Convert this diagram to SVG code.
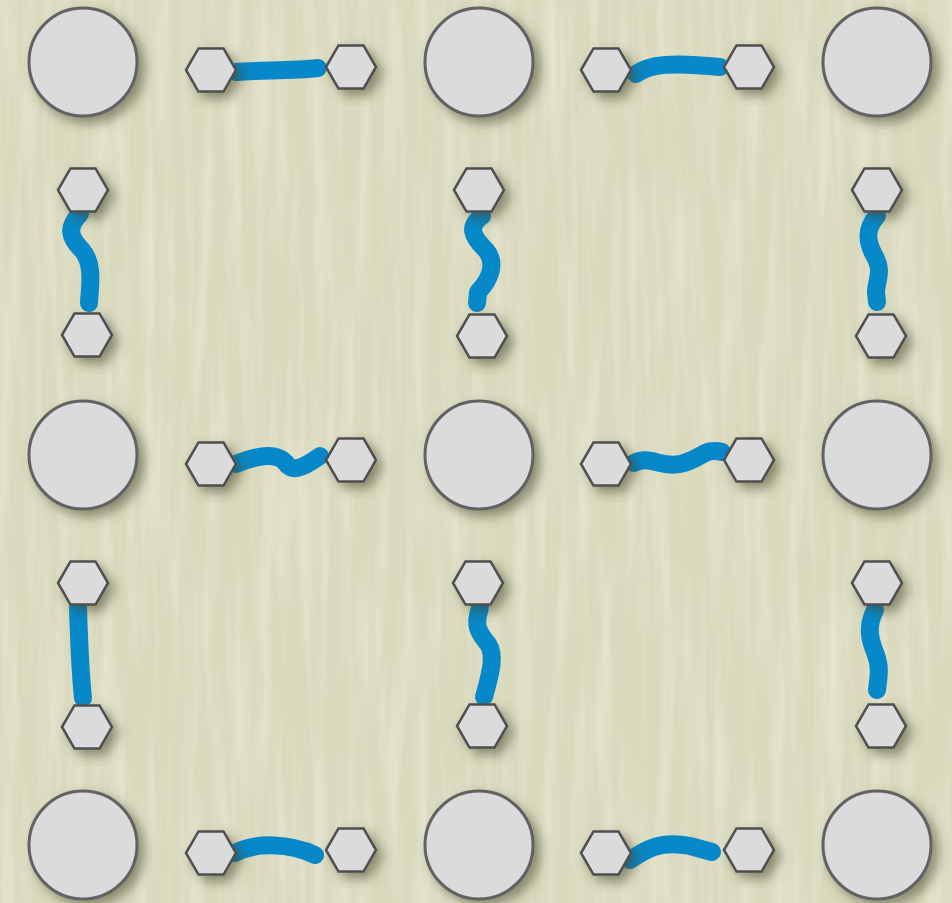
<svg xmlns="http://www.w3.org/2000/svg" width="952" height="903" viewBox="0 0 952 903">
<defs>
<filter id="tex" x="0" y="0" width="100%" height="100%">
<feTurbulence type="fractalNoise" baseFrequency="0.07 0.005" numOctaves="3" seed="7"/>
<feColorMatrix type="matrix" values="0 0 0 0 0.96  0 0 0 0 0.96  0 0 0 0 0.88  0.8 0 0 0 -0.32"/>
</filter>
<filter id="sh" x="-30%" y="-30%" width="170%" height="170%">
<feDropShadow dx="6" dy="6" stdDeviation="6" flood-color="#45452a" flood-opacity="0.55"/>
</filter>
<polygon id="hex" points="-25,0 -12.5,-21.6 12.5,-21.6 25,0 12.5,21.6 -12.5,21.6"/>
</defs>
<style>
.c{fill:#d9dbdd;stroke:#626262;stroke-width:3}
.h{fill:#d9dbdd;stroke:#4f4f4f;stroke-width:2.5;stroke-linejoin:miter}
.n{filter:url(#sh)}
.e{fill:none;stroke:#0788c9;stroke-width:18;stroke-linecap:round;stroke-linejoin:round}
</style>
<rect width="952" height="903" fill="#d9d9bd"/>
<rect width="952" height="903" filter="url(#tex)"/>

<g id="connectors">
<path class="e" d="M236,72 C262,70 292,71 318,68"/>
<path class="e" d="M636,74 C650,64 672,62 720,67"/>
<path class="e" d="M80,214 C66,228 70,238 82,250 C94,264 90,285 89,303"/>
<path class="e" d="M482,216 C468,226 472,236 484,248 C498,262 490,280 478,292 L477,303"/>
<path class="e" d="M877,216 C866,228 866,240 874,255 C884,272 876,280 876,292 L877,302"/>
<path class="e" d="M236,464 C255,456 275,452 285,462 C292,472 300,470 320,456"/>
<path class="e" d="M634,463 C650,455 660,468 680,464 C700,460 705,447 722,452"/>
<path class="e" d="M78,608 C79,640 80,670 83,698"/>
<path class="e" d="M480,608 C474,625 478,632 488,644 C496,656 490,675 484,697"/>
<path class="e" d="M875,610 C866,628 870,640 876,655 C881,668 878,680 877,690"/>
<path class="e" d="M235,853 C255,842 290,843 315,855"/>
<path class="e" d="M630,860 C645,850 660,840 690,846 L712,852"/>
</g>

<g id="c1" class="n"><circle class="c" cx="83" cy="62" r="54"/></g>
<g id="c2" class="n"><circle class="c" cx="479" cy="62" r="54"/></g>
<g id="c3" class="n"><circle class="c" cx="877" cy="62" r="54"/></g>
<g id="c4" class="n"><circle class="c" cx="83" cy="455" r="54"/></g>
<g id="c5" class="n"><circle class="c" cx="479" cy="455" r="54"/></g>
<g id="c6" class="n"><circle class="c" cx="877" cy="455" r="54"/></g>
<g id="c7" class="n"><circle class="c" cx="83" cy="845" r="54"/></g>
<g id="c8" class="n"><circle class="c" cx="479" cy="845" r="54"/></g>
<g id="c9" class="n"><circle class="c" cx="877" cy="845" r="54"/></g>

<g id="h1" class="n"><use href="#hex" class="h" x="211" y="70"/></g>
<g id="h2" class="n"><use href="#hex" class="h" x="351" y="67"/></g>
<g id="h3" class="n"><use href="#hex" class="h" x="606" y="70"/></g>
<g id="h4" class="n"><use href="#hex" class="h" x="749" y="67"/></g>
<g id="h5" class="n"><use href="#hex" class="h" x="83" y="190"/></g>
<g id="h6" class="n"><use href="#hex" class="h" x="87" y="335"/></g>
<g id="h7" class="n"><use href="#hex" class="h" x="479" y="190"/></g>
<g id="h8" class="n"><use href="#hex" class="h" x="482" y="336"/></g>
<g id="h9" class="n"><use href="#hex" class="h" x="877" y="190"/></g>
<g id="h10" class="n"><use href="#hex" class="h" x="881" y="336"/></g>
<g id="h11" class="n"><use href="#hex" class="h" x="211" y="464"/></g>
<g id="h12" class="n"><use href="#hex" class="h" x="351" y="460"/></g>
<g id="h13" class="n"><use href="#hex" class="h" x="606" y="464"/></g>
<g id="h14" class="n"><use href="#hex" class="h" x="749" y="460"/></g>
<g id="h15" class="n"><use href="#hex" class="h" x="83" y="583"/></g>
<g id="h16" class="n"><use href="#hex" class="h" x="87" y="727"/></g>
<g id="h17" class="n"><use href="#hex" class="h" x="478" y="583"/></g>
<g id="h18" class="n"><use href="#hex" class="h" x="482" y="726"/></g>
<g id="h19" class="n"><use href="#hex" class="h" x="877" y="583"/></g>
<g id="h20" class="n"><use href="#hex" class="h" x="881" y="726"/></g>
<g id="h21" class="n"><use href="#hex" class="h" x="211" y="853"/></g>
<g id="h22" class="n"><use href="#hex" class="h" x="351" y="850"/></g>
<g id="h23" class="n"><use href="#hex" class="h" x="606" y="853"/></g>
<g id="h24" class="n"><use href="#hex" class="h" x="749" y="850"/></g>
</svg>
